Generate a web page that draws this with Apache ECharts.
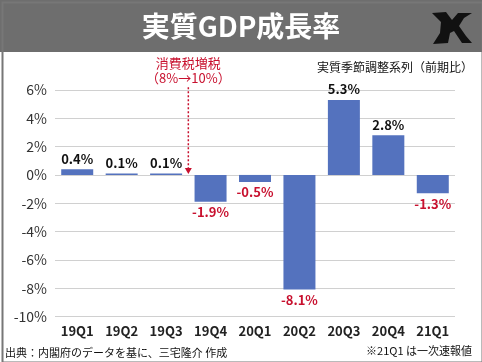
<!DOCTYPE html>
<html><head><meta charset="utf-8">
<script src="https://cdn.jsdelivr.net/npm/echarts@6/dist/echarts.min.js"></script>
<style>html,body{margin:0;padding:0;background:#fff}#c{width:482px;height:362px}</style>
</head><body><div id="c"></div>
<script>
const categories = ['19Q1','19Q2','19Q3','19Q4','20Q1','20Q2','20Q3','20Q4','21Q1'];
const growth = [0.4, 0.1, 0.1, -1.9, -0.5, -8.1, 5.3, 2.8, -1.3];
const yTicks = [-10, -8, -6, -4, -2, 0, 2, 4, 6];

const FONT = '"Noto Sans CJK JP", "Noto Sans", sans-serif';
const chart = echarts.init(document.getElementById('c'));

const baseGraphic = [
  { id: 'banner', type: 'rect', left: 0, top: 0, shape: { width: 482, height: 52 }, style: { fill: '#6e6e6e' }, silent: true },
  { id: 'frame', type: 'rect', left: 0, top: 0, shape: { width: 480, height: 360 }, style: { fill: 'none', stroke: '#777', lineWidth: 2 }, silent: true },
  { id: 'title', type: 'text', x: 241, y: 26, style: { text: '実質GDP成長率', fill: '#fff', font: 'bold 28px ' + FONT, textAlign: 'center', textVerticalAlign: 'middle' } },
  { id: 'logo', type: 'polygon', shape: { points: [[432,13],[446,12],[452,20],[458,13],[472,13],[464,18],[459,26],[466,36],[472,43],[462,43],[454,31],[450,33],[448,43],[433,44],[440,33],[441,22]] }, style: { fill: '#111' } },
  { id: 'sub', type: 'text', x: 473, y: 67, style: { text: '実質季節調整系列（前期比）', fill: '#111', font: '12px ' + FONT, textAlign: 'right', textVerticalAlign: 'middle' } },
  { id: 'src', type: 'text', x: 5, y: 353, style: { text: '出典：内閣府のデータを基に、三宅隆介 作成', fill: '#111', font: '11px ' + FONT, textAlign: 'left', textVerticalAlign: 'middle' } },
  { id: 'note', type: 'text', x: 472, y: 351, style: { text: '※21Q1 は一次速報値', fill: '#111', font: '11px ' + FONT, textAlign: 'right', textVerticalAlign: 'middle' } }
];

chart.setOption({
  animation: false,
  textStyle: { fontFamily: FONT },
  grid: { left: 55, right: 27, top: 90, bottom: 45.5 },
  xAxis: {
    type: 'category', data: categories,
    axisLine: { show: false }, axisTick: { show: false },
    axisLabel: { color: '#222', fontWeight: 'bold', fontSize: 13, margin: 8, fontFamily: FONT }
  },
  yAxis: {
    type: 'value', min: yTicks[0], max: yTicks[yTicks.length - 1], interval: 2,
    axisLine: { show: false }, axisTick: { show: false },
    axisLabel: { formatter: v => v + '%', color: '#333', fontSize: 14, margin: 8, fontFamily: FONT },
    splitLine: { lineStyle: { color: '#d0d0d0', width: 1 } }
  },
  series: [{
    type: 'bar', barWidth: '72%',
    data: growth.map(v => ({
      value: v,
      label: {
        show: true,
        position: v >= 0 ? 'top' : 'bottom',
        color: v >= 0 ? '#111' : '#c8102e',
        fontWeight: 'bold', fontSize: 13, distance: 4,
        formatter: p => p.value.toFixed(1) + '%'
      }
    })),
    itemStyle: { color: '#5472be' }
  }],
  graphic: baseGraphic
});

// annotation between 19Q3 and 19Q4, positioned via the chart's scales
const p3 = chart.convertToPixel({ gridIndex: 0 }, [2, 0]);
const p4 = chart.convertToPixel({ gridIndex: 0 }, [3, 0]);
const xm = (p3[0] + p4[0]) / 2;
const yTop = chart.convertToPixel({ gridIndex: 0 }, [2, 6.2])[1];
const yZero = p3[1];
chart.setOption({
  graphic: baseGraphic.concat([
    { id: 'ann1', type: 'text', x: xm, y: 63, style: { text: '消費税増税', fill: '#c8102e', font: '13px ' + FONT, textAlign: 'center', textVerticalAlign: 'middle' } },
    { id: 'ann2', type: 'text', x: xm, y: 78, style: { text: '（8%→10%）', fill: '#c8102e', font: '13px ' + FONT, textAlign: 'center', textVerticalAlign: 'middle' } },
    { id: 'annLine', type: 'line', shape: { x1: xm, y1: yTop, x2: xm, y2: yZero - 6 }, style: { stroke: '#c8102e', lineWidth: 1.5, lineDash: [2, 2] } },
    { id: 'annArrow', type: 'polygon', shape: { points: [[xm - 3.5, yZero - 7], [xm + 3.5, yZero - 7], [xm, yZero - 1]] }, style: { fill: '#c8102e' } }
  ])
});
</script></body></html>
